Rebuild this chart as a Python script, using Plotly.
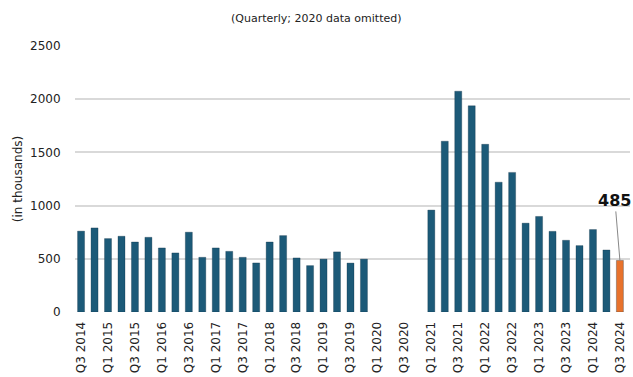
import plotly.graph_objects as go

# Quarterly values (thousands); 2020 quarters left empty
quarters = [
    "Q3 2014", "Q4 2014",
    "Q1 2015", "Q2 2015", "Q3 2015", "Q4 2015",
    "Q1 2016", "Q2 2016", "Q3 2016", "Q4 2016",
    "Q1 2017", "Q2 2017", "Q3 2017", "Q4 2017",
    "Q1 2018", "Q2 2018", "Q3 2018", "Q4 2018",
    "Q1 2019", "Q2 2019", "Q3 2019", "Q4 2019",
    "Q1 2020", "Q2 2020", "Q3 2020", "Q4 2020",
    "Q1 2021", "Q2 2021", "Q3 2021", "Q4 2021",
    "Q1 2022", "Q2 2022", "Q3 2022", "Q4 2022",
    "Q1 2023", "Q2 2023", "Q3 2023", "Q4 2023",
    "Q1 2024", "Q2 2024", "Q3 2024",
]
values = [
    760, 790,
    690, 712, 658, 702,
    602, 555, 750, 514,
    602, 570, 514, 461,
    658, 718, 508, 436,
    497, 565, 460, 497,
    None, None, None, None,
    958, 1605, 2075, 1938,
    1576, 1220, 1312, 835,
    898, 758, 674, 624,
    775, 583, 485,
]
latest_label = "485"

idx = list(range(len(quarters)))
bar_blue = "#1c5a78"
bar_orange = "#e8722c"
colors = [bar_blue] * (len(values) - 1) + [bar_orange]

fig = go.Figure(
    go.Bar(
        x=idx,
        y=values,
        width=0.52,
        marker=dict(color=colors, line=dict(color="rgba(10,40,60,0.5)", width=0.6)),
    )
)

font_family = "DejaVu Sans"

fig.update_layout(
    width=633,
    height=377,
    margin=dict(l=75, r=3, t=46, b=65),
    paper_bgcolor="white",
    plot_bgcolor="white",
    showlegend=False,
    font=dict(family=font_family, size=12, color="#222222"),
    xaxis=dict(
        range=[-0.45, 40.75],
        tickmode="array",
        tickvals=idx[::2],
        ticktext=quarters[::2],
        tickangle=-90,
        tickfont=dict(size=12),
        showgrid=False,
        zeroline=False,
        showline=False,
        ticks="outside",
        ticklen=4,
        tickcolor="rgba(0,0,0,0)",
    ),
    yaxis=dict(
        range=[0, 2500],
        tickmode="array",
        tickvals=[0, 500, 1000, 1500, 2000, 2500],
        tickfont=dict(size=12),
        showgrid=True,
        gridcolor="#d9d9d9",
        gridwidth=2,
        zeroline=False,
        showline=False,
        ticks="outside",
        ticklen=11,
        tickcolor="rgba(0,0,0,0)",
        title=dict(text="(in thousands)", font=dict(size=12), standoff=4),
    ),
    annotations=[
        dict(
            text="(Quarterly; 2020 data omitted)",
            xref="paper", yref="paper",
            x=(316 - 75) / 555, y=1 + (46 - 18) / 266,
            xanchor="center", yanchor="middle",
            showarrow=False,
            font=dict(size=11, family=font_family, color="#222222"),
        ),
        dict(
            text="<b>" + latest_label + "</b>",
            x=idx[-1], y=values[-1],
            xref="x", yref="y",
            showarrow=True,
            arrowhead=0,
            arrowwidth=1,
            arrowcolor="#888888",
            ax=-5, ay=-60,
            font=dict(size=16, family=font_family, color="#111111"),
        ),
    ],
)

fig.write_html("out.html")
